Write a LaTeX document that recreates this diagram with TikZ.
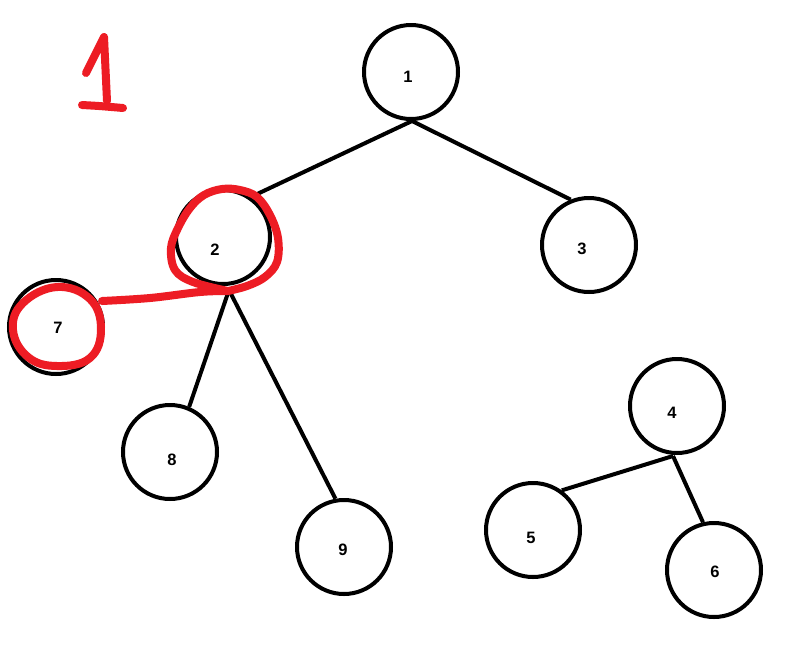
\documentclass[tikz,border=0pt]{standalone}
\usepackage{fontspec}
\setmainfont{Liberation Sans}
\definecolor{paintred}{HTML}{ED1C24}
\begin{document}
\begin{tikzpicture}[x=1pt,y=-1pt,
  treenode/.style={circle,draw=black,line width=4pt,minimum size=94pt,inner sep=0pt},
  numlabel/.style={inner sep=0pt,font=\bfseries\fontsize{16.5}{17}\selectfont},
  edge/.style={draw=black,line width=4pt},
  redink/.style={draw=paintred,line width=8pt,line cap=round,line join=round}]
\useasboundingbox[fill=white] (0,0) rectangle (785,657);
% circles
\node[treenode] (n1) at (411,72) {};
\node[treenode] (n2) at (223,237) {};
\node[treenode] (n3) at (589,245) {};
\node[treenode] (n4) at (677,406) {};
\node[treenode] (n5) at (533,530) {};
\node[treenode] (n6) at (714,570) {};
\node[treenode] (n7) at (56,327) {};
\node[treenode] (n8) at (170,452) {};
\node[treenode] (n9) at (344,547) {};
% labels
\node[numlabel] (t1) at (408,77) {1};
\node[numlabel] (t2) at (215,250) {2};
\node[numlabel] (t3) at (582,249) {3};
\node[numlabel] (t4) at (672,413) {4};
\node[numlabel] (t5) at (531,538) {5};
\node[numlabel] (t6) at (715,572) {6};
\node[numlabel] (t7) at (58,328) {7};
\node[numlabel] (t8) at (172,460) {8};
\node[numlabel] (t9) at (343,550) {9};
% junctions
\coordinate (j1) at (412,121);
\coordinate (j2) at (229,290);
\coordinate (j4) at (673,456);
% edges
\draw[edge] (j1) -- (n2.55);
\draw[edge] (j1) -- (n3.112);
\draw[edge] (j2) -- (n8.67);
\draw[edge] (j2) -- (n9.100);
\draw[edge] (j4) -- (n5.54);
\draw[edge] (j4) -- (n6.103);
% red annotations
\draw[redink] (86,73) -- (104,37) -- (107,101);
\draw[redink] (82,105) .. controls (100,106) .. (123,108);
\draw[redink] plot[smooth,tension=0.6] coordinates {(228,291) (193,282) (175,270) (171,248) (178,228) (190,208) (204,195) (222,189) (240,190) (257,197) (270,215) (278,238) (277,262) (265,277) (247,286) (228,291)};
\draw[redink] plot[smooth,tension=0.6] coordinates {(228,291) (200,292) (150,298) (102,301)};
\draw[redink] plot[smooth cycle,tension=0.7] coordinates {(57,287) (90,299) (101,329) (90,358) (57,366) (28,357) (13,330) (23,303)};
\end{tikzpicture}
\end{document}
